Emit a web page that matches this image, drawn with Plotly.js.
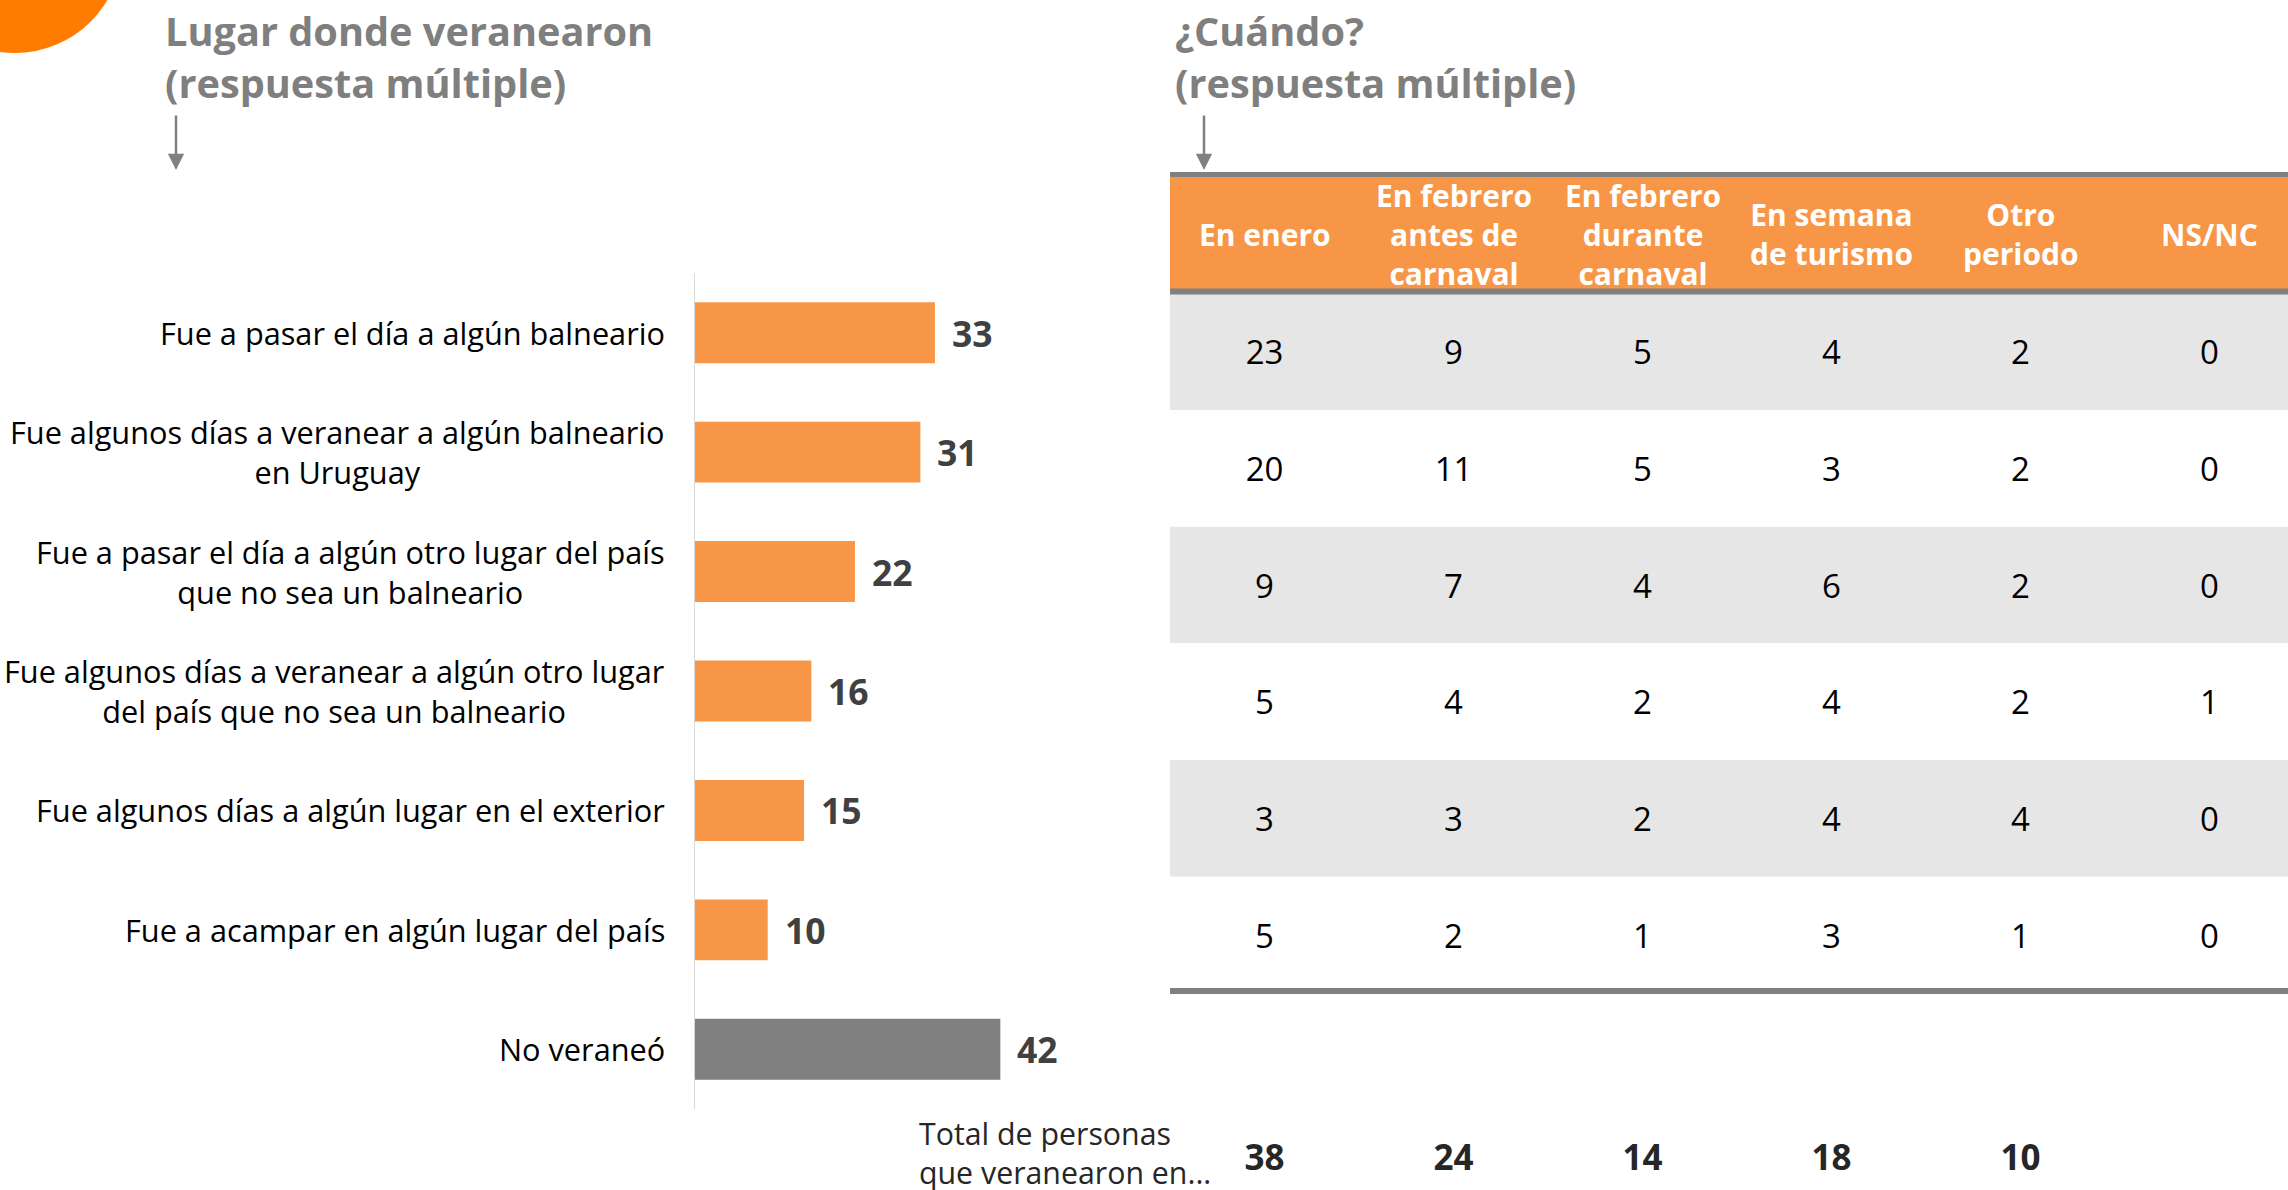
<!DOCTYPE html>
<html>
<head>
<meta charset="utf-8">
<script src="https://cdn.plot.ly/plotly-3.0.1.min.js"></script>
<style>
  html, body { margin: 0; padding: 0; background: #ffffff; }
  #chart { width: 2288px; height: 1190px; }
</style>
</head>
<body>
<div id="chart"></div>
<script>
// ---------- DATA ----------
const leftTitle = 'Lugar donde veranearon<br>(respuesta múltiple)';
const rightTitle = '¿Cuándo?<br>(respuesta múltiple)';

const places = [
  'Fue a pasar el día a algún balneario',
  'Fue algunos días a veranear a algún balneario<br>en Uruguay',
  'Fue a pasar el día a algún otro lugar del país<br>que no sea un balneario',
  'Fue algunos días a veranear a algún otro lugar<br>del país que no sea un balneario',
  'Fue algunos días a algún lugar en el exterior',
  'Fue a acampar en algún lugar del país',
  'No veraneó'
];
const placeValues = [33, 31, 22, 16, 15, 10, 42];

const periods = ['En enero', 'En febrero<br>antes de<br>carnaval', 'En febrero<br>durante<br>carnaval',
                 'En semana<br>de turismo', 'Otro<br>periodo', 'NS/NC'];

const rowDiaBalneario      = [23, 9, 5, 4, 2, 0];
const rowDiasBalneario     = [20, 11, 5, 3, 2, 0];
const rowDiaOtroLugar      = [9, 7, 4, 6, 2, 0];
const rowDiasOtroLugar     = [5, 4, 2, 4, 2, 1];
const rowExterior          = [3, 3, 2, 4, 4, 0];
const rowAcampar           = [5, 2, 1, 3, 1, 0];

const totalsLabel = 'Total de personas<br>que veranearon en...';
const totals = [38, 24, 14, 18, 10];

// ---------- STYLE / LAYOUT ----------
const W = 2288, H = 1190;
const FONT = 'Open Sans, sans-serif';
const ORANGE = '#f79646';
const GRAY = '#808080';

const tableRows = [rowDiaBalneario, rowDiasBalneario, rowDiaOtroLugar, rowDiasOtroLugar, rowExterior, rowAcampar];

// y2 geometry: row unit = 116.7px, row 0 center at 351.6px from top
const UNIT = 116.7, ROW0 = 351.6;
const pxToY2 = px => (px - ROW0) / UNIT;
const TEXT_DY = 4.5 / UNIT;   // small optical correction for text centring

// left bar chart
const barColors = places.map(p => p === 'No veraneó' ? GRAY : ORANGE);
const barTrace = {
  type: 'bar', orientation: 'h',
  x: placeValues, y: places,
  marker: { color: barColors, line: { width: 0 } },
  width: 0.51,
  xaxis: 'x', yaxis: 'y',
  hoverinfo: 'skip'
};

// table numbers
const tx = [], ty = [], tt = [];
tableRows.forEach((row, r) => row.forEach((v, c) => { tx.push(c); ty.push(r + TEXT_DY); tt.push(String(v)); }));
const tableTrace = {
  type: 'scatter', mode: 'text',
  x: tx, y: ty, text: tt,
  textfont: { family: FONT, size: 33, color: '#000000' },
  textposition: 'middle center',
  xaxis: 'x2', yaxis: 'y2', cliponaxis: false, hoverinfo: 'skip'
};

const TOTAL_Y = pxToY2(1157);
const totalsTrace = {
  type: 'scatter', mode: 'text',
  x: totals.map((v, i) => i), y: totals.map(() => TOTAL_Y + TEXT_DY), text: totals.map(String),
  textfont: { family: FONT, size: 35, color: '#262626', weight: 'bold' },
  textposition: 'middle center',
  xaxis: 'x2', yaxis: 'y2', cliponaxis: false, hoverinfo: 'skip'
};

const annotations = [];
// category labels
places.forEach((p) => {
  annotations.push({
    xref: 'x', yref: 'y', x: 0, y: p, xanchor: 'right', yanchor: 'middle',
    xshift: -28, align: 'center', showarrow: false, text: p,
    font: { family: FONT, size: 30.7, color: '#000000' }
  });
});
// value labels
places.forEach((p, i) => {
  annotations.push({
    xref: 'x', yref: 'y', x: placeValues[i], y: p, xanchor: 'left', yanchor: 'middle',
    xshift: 15, showarrow: false, text: String(placeValues[i]),
    font: { family: FONT, size: 35.5, color: '#404040', weight: 'bold' }
  });
});
// header labels
periods.forEach((h, c) => {
  annotations.push({
    xref: 'x2', yref: 'y2', x: c, y: pxToY2(234), xanchor: 'center', yanchor: 'middle',
    align: 'center', showarrow: false, text: h,
    font: { family: FONT, size: 30, color: '#ffffff', weight: 'bold' }
  });
});
// totals label
annotations.push({
  xref: 'paper', yref: 'y2', x: 917 / W, y: pxToY2(1153), xanchor: 'left', yanchor: 'middle',
  align: 'left', showarrow: false, text: totalsLabel,
  font: { family: FONT, size: 30.3, color: '#262626' }
});
// titles
annotations.push({
  xref: 'paper', yref: 'paper', x: 163 / W, y: 1, xanchor: 'left', yanchor: 'top',
  align: 'left', showarrow: false, text: leftTitle, yshift: -2,
  font: { family: FONT, size: 39.7, color: '#7f7f7f', weight: 'bold' }
});
annotations.push({
  xref: 'paper', yref: 'paper', x: 1173 / W, y: 1, xanchor: 'left', yanchor: 'top',
  align: 'left', showarrow: false, text: rightTitle, yshift: -2,
  font: { family: FONT, size: 39.7, color: '#7f7f7f', weight: 'bold' }
});
// arrows
[176, 1204].forEach(px => {
  annotations.push({
    xref: 'paper', yref: 'paper', x: px / W, y: 1 - 170 / H,
    ax: 0, ay: -56, axref: 'pixel', ayref: 'pixel',
    text: '', showarrow: true, arrowhead: 2, arrowsize: 1.3, arrowwidth: 2.5,
    arrowcolor: GRAY, standoff: 0
  });
});

const shapes = [];
// orange decoration circle
shapes.push({
  type: 'circle', xref: 'paper', yref: 'paper',
  x0: (15 - 107) / W, x1: (15 + 107) / W,
  y0: 1 - (-54 + 107) / H, y1: 1 - (-54 - 107) / H,
  fillcolor: '#ff7c00', line: { width: 0 }, layer: 'above'
});
// row backgrounds
tableRows.forEach((row, r) => {
  shapes.push({
    type: 'rect', xref: 'x2', yref: 'y2', x0: -0.5, x1: 6.5, y0: r - 0.5, y1: r + 0.5,
    fillcolor: r % 2 === 0 ? '#e7e6e6' : '#ffffff', line: { width: 0 }, layer: 'below'
  });
});
// header background
shapes.push({
  type: 'rect', xref: 'x2', yref: 'y2', x0: -0.5, x1: 6.5, y0: pxToY2(176), y1: pxToY2(290),
  fillcolor: ORANGE, line: { width: 0 }, layer: 'below'
});
// table rules
[[174.5, 5], [291.5, 6], [991, 6]].forEach(([px, w]) => {
  shapes.push({
    type: 'line', xref: 'x2', yref: 'y2', x0: -0.5, x1: 6.5, y0: pxToY2(px), y1: pxToY2(px),
    line: { color: GRAY, width: w }, layer: 'below'
  });
});

const layout = {
  width: W, height: H,
  margin: { l: 0, r: 0, t: 0, b: 0, pad: 0 },
  paper_bgcolor: '#ffffff', plot_bgcolor: 'rgba(0,0,0,0)',
  showlegend: false,
  font: { family: FONT },
  xaxis: {
    domain: [695 / W, 1150 / W], range: [0, 455 / 7.27],
    visible: false, fixedrange: true
  },
  yaxis: {
    domain: [1 - 1109 / H, 1 - 273 / H], type: 'category',
    categoryorder: 'array', categoryarray: places,
    range: [6.5, -0.5],
    showticklabels: false, ticks: '', showgrid: false, zeroline: false,
    showline: true, linecolor: '#d9d9d9', linewidth: 1.5, fixedrange: true
  },
  xaxis2: {
    domain: [1170 / W, 1], range: [-0.5, (W - 1170) / 189 - 0.5],
    visible: false, fixedrange: true, anchor: 'y2'
  },
  yaxis2: {
    domain: [0, 1], range: [pxToY2(H), pxToY2(0)],
    visible: false, fixedrange: true, anchor: 'x2'
  },
  annotations: annotations,
  shapes: shapes
};

Plotly.newPlot('chart', [barTrace, tableTrace, totalsTrace], layout, { displayModeBar: false, staticPlot: true });
</script>
</body>
</html>
